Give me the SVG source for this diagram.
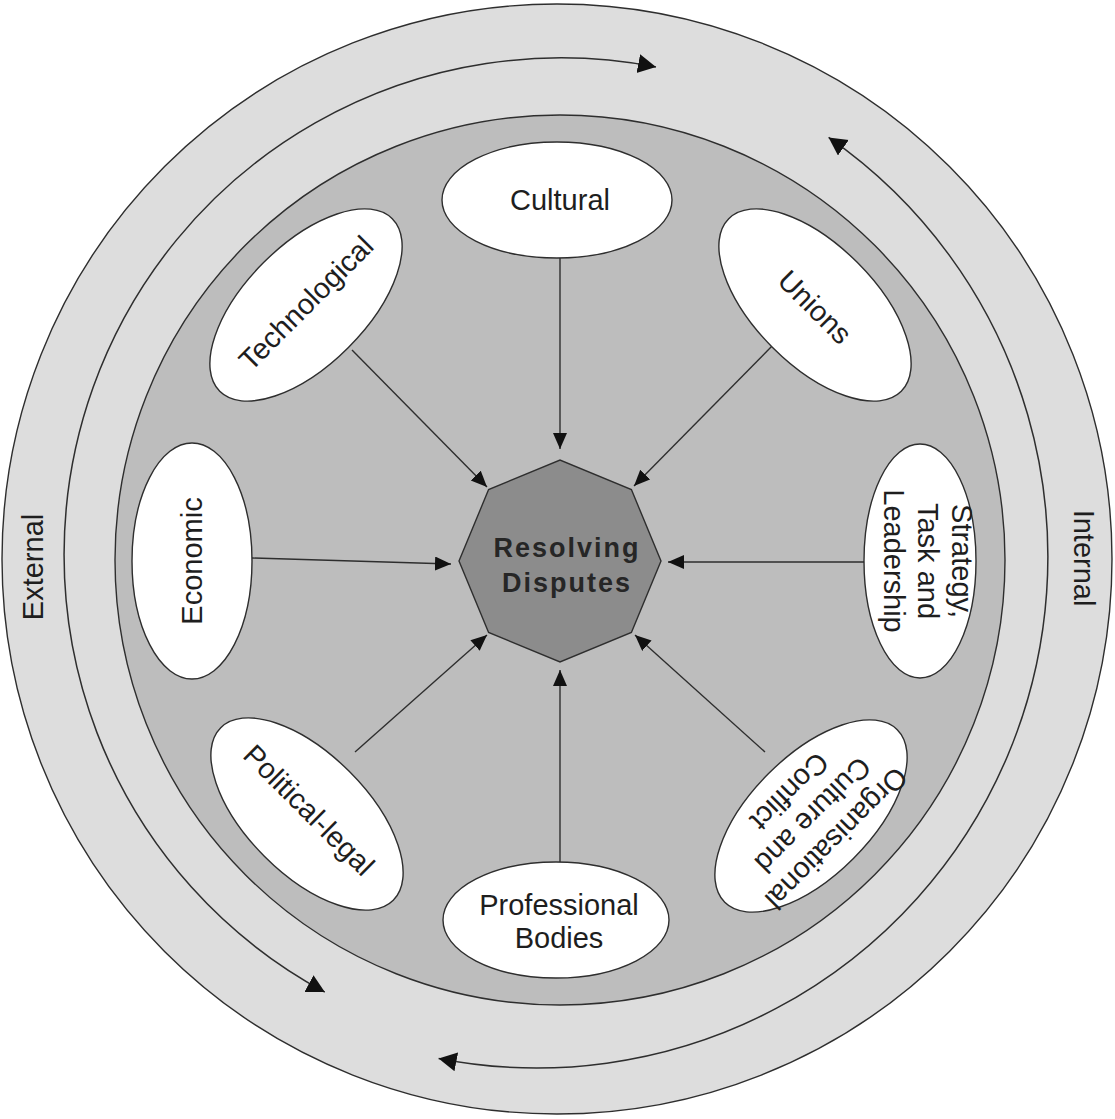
<svg xmlns="http://www.w3.org/2000/svg" width="1115" height="1119" viewBox="0 0 1115 1119">
  <defs>
    <style>
      .ring { stroke: #2e2e2e; stroke-width: 1.4; }
      .node { fill: #ffffff; stroke: #2e2e2e; stroke-width: 1.4; }
      .lbl { font-family: "Liberation Sans", Arial, sans-serif; font-size: 29px; fill: #1e1e1e; text-anchor: middle; }
      .edge { stroke: #2e2e2e; stroke-width: 1.4; fill: none; marker-end: url(#head); }
      .flow { stroke: #2e2e2e; stroke-width: 1.5; fill: none; marker-start: url(#bighead); marker-end: url(#bighead); }
    </style>
    <marker id="head" markerUnits="userSpaceOnUse" markerWidth="17" markerHeight="15" refX="16" refY="7" orient="auto">
      <path d="M0,0 L16,7 L0,14 Z" fill="#111"/>
    </marker>
    <marker id="bighead" markerUnits="userSpaceOnUse" markerWidth="20" markerHeight="20" refX="18" refY="9.5" orient="auto-start-reverse">
      <path d="M0,0 L18,9.5 L0,19 Z" fill="#111"/>
    </marker>
  </defs>

  <rect width="1115" height="1119" fill="#ffffff"/>

  <!-- background rings -->
  <g id="rings">
    <circle class="ring" cx="557" cy="559" r="555" fill="#dddddd"/>
    <circle class="ring" cx="560" cy="560" r="445" fill="#bdbdbd"/>
    <text class="lbl" transform="translate(33,567) rotate(-90)" y="10">External</text>
    <text class="lbl" transform="translate(1084,558) rotate(90)" y="10">Internal</text>
  </g>

  <!-- circulating flows -->
  <g id="flows">
    <path class="flow" d="M324.8,992.1 A497,497 0 0 1 656,67"/>
    <path class="flow" d="M828.6,137.4 A511,511 0 0 1 438.6,1058.4"/>
  </g>

  <!-- connectors -->
  <g id="connectors">
    <line class="edge" x1="560" y1="258" x2="560" y2="449"/>
    <line class="edge" x1="560" y1="862" x2="560" y2="670"/>
    <line class="edge" x1="252" y1="558" x2="451" y2="564"/>
    <line class="edge" x1="865" y1="562" x2="668" y2="562"/>
    <line class="edge" x1="352" y1="350" x2="487" y2="487"/>
    <line class="edge" x1="773" y1="345" x2="634" y2="486"/>
    <line class="edge" x1="355" y1="752" x2="487" y2="635"/>
    <line class="edge" x1="765" y1="752" x2="635" y2="635"/>
  </g>

  <g id="resolving-disputes">
    <polygon points="661,561 631.4,632.4 560,662 488.6,632.4 459,561 488.6,489.6 560,460 631.4,489.6" fill="#8c8c8c" stroke="#2e2e2e" stroke-width="1.4"/>
    <text class="lbl" x="567" y="557" style="font-weight:bold;font-size:27px;letter-spacing:2px;fill:#262626">Resolving</text>
    <text class="lbl" x="567" y="592" style="font-weight:bold;font-size:27px;letter-spacing:2px;fill:#262626">Disputes</text>
  </g>

  <g id="cultural">
    <ellipse class="node" cx="557" cy="200" rx="115" ry="58"/>
    <text class="lbl" x="560" y="210">Cultural</text>
  </g>

  <g id="professional-bodies">
    <ellipse class="node" cx="556" cy="920" rx="113" ry="58"/>
    <text class="lbl" x="559" y="915">Professional</text>
    <text class="lbl" x="559" y="948">Bodies</text>
  </g>

  <g id="economic">
    <ellipse class="node" cx="192" cy="561" rx="60" ry="118"/>
    <text class="lbl" transform="translate(192,561) rotate(-90)" y="10">Economic</text>
  </g>

  <g id="strategy-task-leadership">
    <ellipse class="node" cx="920" cy="561" rx="56" ry="117"/>
    <g transform="translate(922,561) rotate(90)">
      <text class="lbl" y="-30">Strategy,</text>
      <text class="lbl" y="4">Task and</text>
      <text class="lbl" y="38">Leadership</text>
    </g>
  </g>

  <g id="technological">
    <ellipse class="node" cx="0" cy="0" rx="122" ry="60" transform="translate(306,305) rotate(-45)"/>
    <text class="lbl" transform="translate(306,303) rotate(-45)" y="10">Technological</text>
  </g>

  <g id="unions">
    <ellipse class="node" cx="0" cy="0" rx="122" ry="60" transform="translate(815,305) rotate(45)"/>
    <text class="lbl" transform="translate(815,307) rotate(45)" y="10">Unions</text>
  </g>

  <g id="political-legal">
    <ellipse class="node" cx="0" cy="0" rx="122" ry="60" transform="translate(307,814) rotate(45)"/>
    <text class="lbl" transform="translate(309,810) rotate(45)" y="10">Political-legal</text>
  </g>

  <g id="organisational-culture-conflict">
    <ellipse class="node" cx="0" cy="0" rx="122" ry="60" transform="translate(811,816) rotate(-45)"/>
    <g transform="translate(813,815) rotate(135)">
      <text class="lbl" y="-23">Organisational</text>
      <text class="lbl" y="10">Culture and</text>
      <text class="lbl" y="43">Conflict</text>
    </g>
  </g>
</svg>
